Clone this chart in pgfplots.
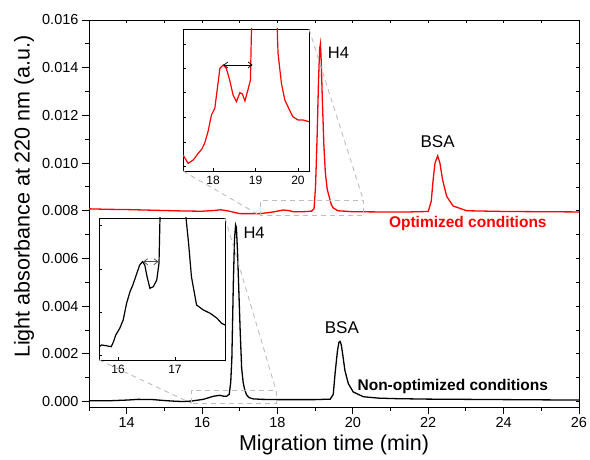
\documentclass[border=0pt]{standalone}
\usepackage{fontspec}
\setmainfont{Liberation Sans}
\usepackage{pgfplots}
\pgfplotsset{compat=1.18}
\usetikzlibrary{arrows.meta}
\definecolor{dgray}{RGB}{190,190,190}
\pgfplotsset{/pgf/number format/assume math mode=true}

\pgfplotstableread{
x y
13.0 0.00003
13.5 0.00003
14.0 0.00006
14.3 0.00009
14.7 0.00008
15.0 0.00004
15.3 0.00001
15.5 0.00000
15.72 0.00002
16.03 0.00009
16.3 0.00022
16.47 0.00026
16.58 0.00022
16.65 0.00022
16.72 0.0003
16.76 0.0008
16.79 0.0018
16.83 0.0050
16.86 0.0068
16.89 0.0074
16.91 0.0073
16.94 0.0063
16.97 0.0049
17.01 0.0030
17.05 0.0014
17.09 0.0008
17.13 0.0005
17.18 0.00028
17.25 0.00016
17.36 0.00011
17.6 0.00009
18.0 0.00008
18.5 0.00008
19.0 0.00008
19.4 0.0001
19.48 0.0003
19.53 0.0012
19.59 0.0021
19.63 0.00248
19.66 0.00252
19.69 0.0024
19.72 0.0021
19.79 0.0013
19.88 0.00075
20.01 0.0004
20.28 0.0002
20.7 0.00014
21.16 0.00012
22 0.0001
23 0.00009
24 0.00008
25 0.00007
26 0.00006
}\blackmain

\pgfplotstableread{
x y
13.0 0.00808
13.5 0.00806
14.0 0.00805
14.5 0.00803
15.0 0.00801
15.5 0.00799
16.0 0.00798
16.3 0.00801
16.5 0.00804
16.7 0.00799
17.0 0.00788
17.55 0.00788
17.89 0.00795
18.15 0.00803
18.29 0.00801
18.42 0.00796
18.68 0.00796
18.9 0.00798
18.97 0.00808
19.01 0.0090
19.05 0.0110
19.09 0.0135
19.12 0.0148
19.14 0.0150
19.16 0.0143
19.19 0.0127
19.23 0.0108
19.27 0.0096
19.32 0.0089
19.37 0.0086
19.43 0.00825
19.48 0.00812
19.6 0.00800
20.0 0.00796
20.7 0.00795
21.5 0.00795
22.0 0.00797
22.08 0.0084
22.13 0.0093
22.18 0.0100
22.25 0.01030
22.31 0.0100
22.38 0.0093
22.49 0.0086
22.66 0.0082
23.02 0.0080
24 0.00797
25 0.00796
26 0.00795
}\redmain

\pgfplotstableread{
x v
17.29 16
17.41 7.7
17.53 11
17.65 17.7
17.73 21.7
17.80 27.7
17.88 39.3
17.96 56
18.04 62.7
18.08 76
18.16 102.7
18.24 106
18.31 102.7
18.39 91
18.47 76
18.55 69.3
18.63 78.3
18.69 77
18.75 70
18.82 81
18.88 91
18.90 134
18.93 170
19.0 400
19.4 400
19.49 170
19.53 117.7
19.61 87.7
19.69 71
19.80 61
19.88 54.3
20.0 51
20.12 51
20.26 49.3
}\redins

\pgfplotstableread{
x v
15.665 13.3
15.71 15
15.79 14.3
15.88 13.3
15.92 18.3
15.96 25
16.03 31.7
16.09 40
16.15 56.7
16.21 68.3
16.26 75
16.32 85
16.38 95
16.43 98.3
16.47 95
16.51 83.3
16.56 71.7
16.62 73.3
16.68 80
16.72 96.7
16.74 150
16.8 400
17.1 400
17.18 150
17.24 116.7
17.29 83.3
17.38 55
17.50 50
17.62 46.7
17.74 41.7
17.82 36.7
17.88 35
}\blackins

\begin{document}
\begin{tikzpicture}[x=1pt,y=1pt]
\useasboundingbox (0,0) rectangle (590,460);
\begin{axis}[
  name=main,
  at={(89pt,53pt)}, anchor=south west,
  scale only axis, width=490pt, height=387pt,
  xmin=13, xmax=26, ymin=-0.00023, ymax=0.016,
  xtick={14,16,18,20,22,24,26}, minor xtick={13,15,17,19,21,23,25},
  ytick={0,0.002,0.004,0.006,0.008,0.010,0.012,0.014,0.016},
  minor ytick={0.001,0.003,0.005,0.007,0.009,0.011,0.013,0.015},
  scaled y ticks=false,
  yticklabel style={/pgf/number format/.cd,fixed,fixed zerofill,precision=3},
  tick pos=left, tick align=outside,
  major tick length=7pt, minor tick length=4pt,
  every tick/.style={black, line width=0.9pt},
  axis line style={line width=0.9pt},
  ticklabel style={font=\fontsize{14.5}{17}\selectfont},
  xlabel={Migration time (min)},
  ylabel={Light absorbance at 220 nm (a.u.)},
  label style={font=\fontsize{21.5}{25}\selectfont},
  xlabel style={at={(axis description cs:0.5,0)}, anchor=north, inner sep=0pt, yshift=-28pt},
  ylabel style={at={(axis description cs:-0.1327,0.544)}, anchor=center, inner sep=0pt},
]
\addplot[black, line width=1.3pt] table[x=x,y=y] {\blackmain};
\addplot[red, line width=1.3pt] table[x=x,y=y] {\redmain};
\draw[dgray, dash pattern=on 5pt off 4pt, line width=0.9pt] (axis cs:17.55,0.00779) rectangle (axis cs:20.28,0.00844);
\draw[dgray, dash pattern=on 5pt off 4pt, line width=0.9pt] (axis cs:15.72,-0.000076) rectangle (axis cs:17.96,0.00048);
\coordinate (rSW) at (axis cs:17.55,0.00779);
\coordinate (rNE) at (axis cs:20.28,0.00844);
\coordinate (bSW) at (axis cs:15.72,-0.000076);
\coordinate (bNE) at (axis cs:17.96,0.00048);
\node[font=\fontsize{16.5}{19}\selectfont] at (axis cs:19.62,0.01464) {H4};
\node[font=\fontsize{16.5}{19}\selectfont] at (axis cs:17.38,0.00708) {H4};
\node[font=\fontsize{17}{19}\selectfont] at (axis cs:22.25,0.01088) {BSA};
\node[font=\fontsize{17}{19}\selectfont] at (axis cs:19.71,0.00308) {BSA};
\node[font=\fontsize{15.5}{18}\selectfont\bfseries, text=red] at (axis cs:23.05,0.00746) {Optimized conditions};
\node[font=\fontsize{15.5}{18}\selectfont\bfseries] at (axis cs:22.65,0.00064) {Non-optimized conditions};
\end{axis}
\begin{axis}[
  at={(89pt,53pt)}, anchor=south west,
  scale only axis, width=490pt, height=387pt,
  xmin=13, xmax=26, ymin=-0.00023, ymax=0.016,
  axis x line*=top, axis y line*=right,
  scaled y ticks=false, scaled x ticks=false,
  xtick={14,16,18,20,22,24,26}, minor xtick={13,15,17,19,21,23,25},
  ytick={0,0.002,0.004,0.006,0.008,0.010,0.012,0.014,0.016},
  minor ytick={0.001,0.003,0.005,0.007,0.009,0.011,0.013,0.015},
  xticklabels={}, yticklabels={},
  tick align=inside, major tick length=3pt, minor tick length=3pt,
  every tick/.style={black, line width=0.8pt},
  axis line style={line width=0.9pt},
]
\end{axis}
\begin{axis}[
  name=rins,
  at={(183pt,289pt)}, anchor=south west,
  scale only axis, width=126pt, height=142pt,
  xmin=17.29, xmax=20.26, ymin=0, ymax=142,
  tick pos=left, tick align=inside,
  xtick={18,19,20},
  ytick={4.3,29,53.7,78.3,102.7,127}, yticklabels={},
  major tick length=3pt,
  every tick/.style={black, line width=0.8pt},
  axis line style={line width=0.8pt},
  ticklabel style={font=\fontsize{12}{14}\selectfont},
  xticklabel style={yshift=-2pt},
  axis background/.style={fill=white},
]
\addplot[red, line width=1.2pt] table[x=x,y=v] {\redins};
\draw[{Straight Barb[length=4pt,width=6pt]}-{Straight Barb[length=4pt,width=6pt]}, line width=0.7pt] (axis cs:18.24,106) -- (axis cs:18.93,106);
\end{axis}
\begin{axis}[
  name=bins,
  at={(99pt,100pt)}, anchor=south west,
  scale only axis, width=126pt, height=142pt,
  xmin=15.665, xmax=17.88, ymin=0, ymax=142,
  tick pos=left, tick align=inside,
  xtick={16,17},
  ytick={4.3,47.6,90.9,134.2}, yticklabels={},
  major tick length=3pt,
  every tick/.style={black, line width=0.8pt},
  axis line style={line width=0.8pt},
  ticklabel style={font=\fontsize{12}{14}\selectfont},
  xticklabel style={yshift=-2pt},
  axis background/.style={fill=white},
]
\addplot[black, line width=1.2pt] table[x=x,y=v] {\blackins};
\draw[{Straight Barb[length=4pt,width=6pt]}-{Straight Barb[length=4pt,width=6pt]}, line width=0.7pt, black!70] (axis cs:16.44,98.3) -- (axis cs:16.71,98.3);
\end{axis}
\draw[dgray, dash pattern=on 5pt off 4pt, line width=0.9pt] (rins.south west) -- (rSW);
\draw[dgray, dash pattern=on 5pt off 4pt, line width=0.9pt] (rins.north east) -- (rNE);
\draw[dgray, dash pattern=on 5pt off 4pt, line width=0.9pt] (bins.south west) -- (bSW);
\draw[dgray, dash pattern=on 5pt off 4pt, line width=0.9pt] (bins.north east) -- (bNE);
\end{tikzpicture}
\end{document}
